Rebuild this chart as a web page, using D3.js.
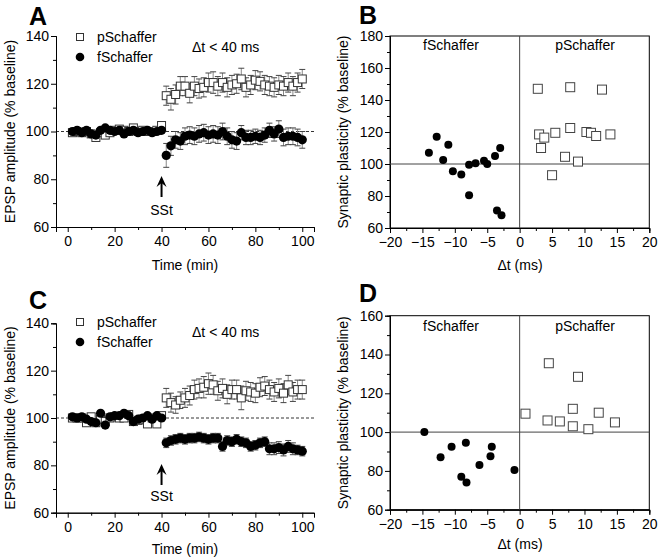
<!DOCTYPE html>
<html><head><meta charset="utf-8">
<script src="https://cdn.jsdelivr.net/npm/d3@7"></script>
<style>body{margin:0;background:#fff}svg{display:block}text{font-family:"Liberation Sans",Arial,sans-serif;fill:#000}</style>
</head><body><svg id="c" width="661" height="558"></svg>
<script>
const time = [2,4,6,8,10,12,14,16,18,20,22,24,26,28,30,32,34,36,38,40,42,44,46,48,50,52,54,56,58,60,62,64,66,68,70,72,74,76,78,80,82,84,86,88,90,92,94,96,98,100];
// Panel A
const aP = [99.5,100,99.5,100,99,97.5,99.5,98.5,99.5,100.5,101,100.5,100,101.5,100,100.5,100,100,100.5,102.5,
  115,113.5,115.5,119,119,116,119,118,118.5,120.5,120.5,119,120.5,118.5,119.5,120,122,118.5,119.5,121.5,121,119.5,119,118.5,119.5,119,120.5,119,120.5,122];
const aPerr = [1,1,1,1,1,1,1,1,1,1,1,1,1,1,1,1,1,1,1,1,
  4,4.5,4,4,4,4,4,4,4,4,4.5,4,4,4,4,4,4.5,4,4,4,4,4,4,4,4,4,4,4,4,4];
const aF = [100,100.5,99.5,100.5,99,98.5,100.5,101.5,100.5,100,100.5,99,100,100.5,99.5,100,100.5,99.5,100,100.5,
  90,94,96.5,96,98,98.5,98,99,99.5,98.5,99,98.5,100,98,96.5,96,99.5,97.5,97.5,98,97.5,98.5,100.5,99,101,97.5,98,98,97.5,96.5];
const aFerr = [1,1,1,1,1,1,1,1,1,1,1,1,1,1,1,1,1,1,1,1,
  5,4,3.5,3.5,3.5,3.5,3.5,3.5,3.5,3.5,3.5,3.5,3.5,3.5,3.5,3.5,3,3,3,3,3,3,3,3,3.5,3.5,3.5,3.5,3.5,3.5];
// Panel C
const cP = [100,100,100,98,100.5,98,99.5,98.5,100,100.5,100,100,101.5,98.5,99,99.5,97.5,100,97.5,101,
  108.5,106.5,105.5,107.5,108.5,109.5,112,112.5,113,114.5,114,111.5,112.5,110,112,112,108.5,111.5,111,110.5,113,113.5,112,111,112.5,110.5,114,111,112,112];
const cPerr = [1,1,1,1,1,1,1,1,1,1,1,1,1,1,1,1,1,1,1,1,
  4,4,3.5,3.5,4,4,4,4,4.5,4.5,4,4,4,4,4,4,5,4,4,4,4,4,4,4,4,4,4,4,4,4];
const cF = [100.5,100,100.5,99.5,98.5,98,102,97,100.5,101,101,102,101,98.5,99.5,100,101,99.5,101,100,
  89.5,90.5,91,91.5,91,91.5,91.5,92,91.5,91,91.5,91.5,88,90.5,90,91,90,89.5,88,88.5,89.5,90,87,87,87.5,86.5,88,87,86.5,86];
const cFerr = [1,1,1,1,1,1,1,1,1,1,1,1,1,1,1,1,1,1,1,1,
  2,2,2,2,2,2,2,2,2,2,2,2,2,2,2,2,2,2,2,2,2,2,2.5,2.5,2.5,2.5,2.5,2.5,2,2];
// Panel B
const bFx = [-14,-12.8,-11.8,-11,-10.3,-9,-7.8,-7.8,-6.8,-5.5,-5,-3.8,-3.5,-3,-2.8];
const bFy = [107,117,102.5,112,95.5,93.5,80.5,99.5,100.5,102,100,105,71,110,68];
const bPx = [2.8,3,3.3,3.8,5,5.5,7,7.8,7.8,9,10.3,11,11.8,12.7,14];
const bPy = [147,118.5,110,116.5,93,119.5,104.5,148,122.5,101.5,120,119.5,117.5,146.5,118.5];
// Panel D
const dFx = [-14.7,-12.2,-10.5,-9,-8.3,-8.2,-6.2,-4.5,-4.3,-0.8];
const dFy = [100,87,92.5,77,94.5,74,83,87.5,92.5,80.5];
const dPx = [0.9,4.3,4.5,6.2,8.2,8.2,9,10.6,12.2,14.7];
const dPy = [109.5,106,135.5,105.5,112,103,128.5,101.5,110,105];

const timeTicks = [0,20,40,60,80,100];
const epspTicks = [60,80,100,120,140];
const dtTicks = [-20,-15,-10,-5,0,5,10,15,20];

const svg = d3.select("#c");
const FS = 14;

function text(x,y,s,opts={}){
  const t = svg.append("text").attr("x",x).attr("y",y).text(s)
    .attr("font-size",opts.size||FS).attr("text-anchor",opts.anchor||"start");
  if(opts.weight) t.attr("font-weight",opts.weight);
  if(opts.rotate) t.attr("transform",`rotate(-90,${x},${y})`);
  return t;
}

function axes(g,x,y,yTicks,yMinor,xTicks,xMinor,box){
  const ya = d3.axisLeft(y).tickValues(yTicks).tickSize(5).tickPadding(2).tickFormat(d3.format("d"));
  const yam = d3.axisLeft(y).tickValues(yMinor).tickSize(3).tickFormat("");
  const xa = d3.axisBottom(x).tickValues(xTicks).tickSize(5).tickPadding(4).tickFormat(d3.format("d"));
  const xam = d3.axisBottom(x).tickValues(xMinor).tickSize(3).tickFormat("");
  const x0 = x.range()[0], y0 = y.range()[0];
  [ya,yam].forEach(a=>g.append("g").attr("transform",`translate(${x0},0)`).call(a));
  [xa,xam].forEach(a=>g.append("g").attr("transform",`translate(0,${y0})`).call(a));
  g.selectAll(".domain").attr("stroke","#000");
  g.selectAll(".tick line").attr("stroke","#000");
  g.selectAll(".tick text").attr("font-size",FS).attr("font-family","Liberation Sans, Arial, sans-serif").attr("fill","#000");
  if(box){
    g.append("rect").attr("x",x0).attr("y",y.range()[1]).attr("width",x.range()[1]-x0).attr("height",y0-y.range()[1])
      .attr("fill","none").attr("stroke","#000");
  }
}

function timePanel(opts){
  const g = svg.append("g");
  const x = d3.scaleLinear().domain([-5,105]).range([56,314]);
  const y = d3.scaleLinear().domain([60,140]).range([opts.yb,opts.yt]);
  const minorY = [70,90,110,130];
  const minorX = [10,30,50,70,90];
  axes(g,x,y,epspTicks,minorY,timeTicks,minorX,false);
  g.append("line").attr("x1",x(-5)).attr("x2",x(105)).attr("y1",y(100)).attr("y2",y(100))
    .attr("stroke","#000").attr("stroke-dasharray","3,2").attr("stroke-width",0.8);
  function errs(vals,err){
    const eg = g.append("g").attr("stroke-width",1);
    time.forEach((t,i)=>{
      const cx=x(t), y1=y(vals[i]+err[i]), y2=y(vals[i]-err[i]);
      eg.append("line").attr("x1",cx).attr("x2",cx).attr("y1",y1).attr("y2",y2).attr("stroke","#888");
      eg.append("line").attr("x1",cx-3).attr("x2",cx+3).attr("y1",y1).attr("y2",y1).attr("stroke","#444");
      eg.append("line").attr("x1",cx-3).attr("x2",cx+3).attr("y1",y2).attr("y2",y2).attr("stroke","#444");
    });
  }
  errs(opts.P,opts.Perr);
  errs(opts.F,opts.Ferr);
  g.append("g").selectAll("rect").data(time).join("rect")
    .attr("x",(d)=>x(d)-4).attr("y",(d,i)=>y(opts.P[i])-4).attr("width",8).attr("height",8)
    .attr("fill","#fff").attr("stroke","#333").attr("stroke-width",1);
  g.append("g").selectAll("circle").data(time).join("circle")
    .attr("cx",d=>x(d)).attr("cy",(d,i)=>y(opts.F[i])).attr("r",4.6).attr("fill","#000");
  g.append("rect").attr("x",76.5).attr("y",opts.legY-3.5).attr("width",7).attr("height",7).attr("fill","#fff").attr("stroke","#333");
  g.append("circle").attr("cx",80).attr("cy",opts.legY+20).attr("r",4.3).attr("fill","#000");
  text(97,opts.legY+5,"pSchaffer");
  text(97,opts.legY+25,"fSchaffer");
  text(192,opts.legY+15,"\u0394t < 40 ms");
  const ax = x(40), at = opts.arrowTop;
  g.append("line").attr("x1",ax).attr("x2",ax).attr("y1",at+4).attr("y2",at+21).attr("stroke","#000").attr("stroke-width",2);
  g.append("path").attr("d",`M${ax},${at} L${ax+5},${at+11} L${ax},${at+7} L${ax-5},${at+11} Z`).attr("fill","#000");
  text(ax,opts.sstY,"SSt",{anchor:"middle"});
  text(185,opts.xTitleY,"Time (min)",{anchor:"middle"});
  text(15,(opts.yb+opts.yt)/2,"EPSP amplitude (% baseline)",{anchor:"middle",rotate:true});
  text(29,opts.letterY,opts.letter,{size:25,weight:"bold"});
}

function scatterPanel(opts){
  const g = svg.append("g");
  const x = d3.scaleLinear().domain([-20,20]).range([390,649.3]);
  const y = d3.scaleLinear().domain(opts.yd).range([opts.yb,opts.yt]);
  const yT = d3.range(opts.yd[0],opts.yd[1]+1,20);
  const yM = d3.range(opts.yd[0]+10,opts.yd[1],20);
  const xM = [-17.5,-12.5,-7.5,-2.5,2.5,7.5,12.5,17.5];
  axes(g,x,y,yT,yM,dtTicks,xM,true);
  g.append("line").attr("x1",x(0)).attr("x2",x(0)).attr("y1",y.range()[0]).attr("y2",y.range()[1]).attr("stroke","#444");
  g.append("line").attr("x1",x(-20)).attr("x2",x(20)).attr("y1",y(100)).attr("y2",y(100)).attr("stroke","#444");
  g.append("g").selectAll("circle").data(opts.Fx).join("circle")
    .attr("cx",d=>x(d)).attr("cy",(d,i)=>y(opts.Fy[i])).attr("r",4).attr("fill","#000");
  g.append("g").selectAll("rect").data(opts.Px).join("rect")
    .attr("x",d=>x(d)-4.5).attr("y",(d,i)=>y(opts.Py[i])-4.5).attr("width",9).attr("height",9)
    .attr("fill","#fff").attr("stroke","#444").attr("stroke-width",1);
  text(451,opts.labY,"fSchaffer",{anchor:"middle"});
  text(585,opts.labY,"pSchaffer",{anchor:"middle"});
  text(520,opts.xTitleY,"\u0394t (ms)",{anchor:"middle"});
  text(348,(opts.yb+opts.yt)/2,"Synaptic plasticity (% baseline)",{anchor:"middle",rotate:true});
  text(359,opts.letterY,opts.letter,{size:25,weight:"bold"});
}

timePanel({P:aP,Perr:aPerr,F:aF,Ferr:aFerr,yt:36,yb:227,legY:37,arrowTop:176,sstY:215,xTitleY:270,letterY:25,letter:"A"});
timePanel({P:cP,Perr:cPerr,F:cF,Ferr:cFerr,yt:323.3,yb:512.7,legY:322,arrowTop:464,sstY:501,xTitleY:554,letterY:309,letter:"C"});
scatterPanel({Fx:bFx,Fy:bFy,Px:bPx,Py:bPy,yd:[60,180],yt:36,yb:228,labY:50,xTitleY:270,letterY:24,letter:"B"});
scatterPanel({Fx:dFx,Fy:dFy,Px:dPx,Py:dPy,yd:[60,160],yt:315.7,yb:509.7,labY:331,xTitleY:549,letterY:302,letter:"D"});
</script></body></html>
